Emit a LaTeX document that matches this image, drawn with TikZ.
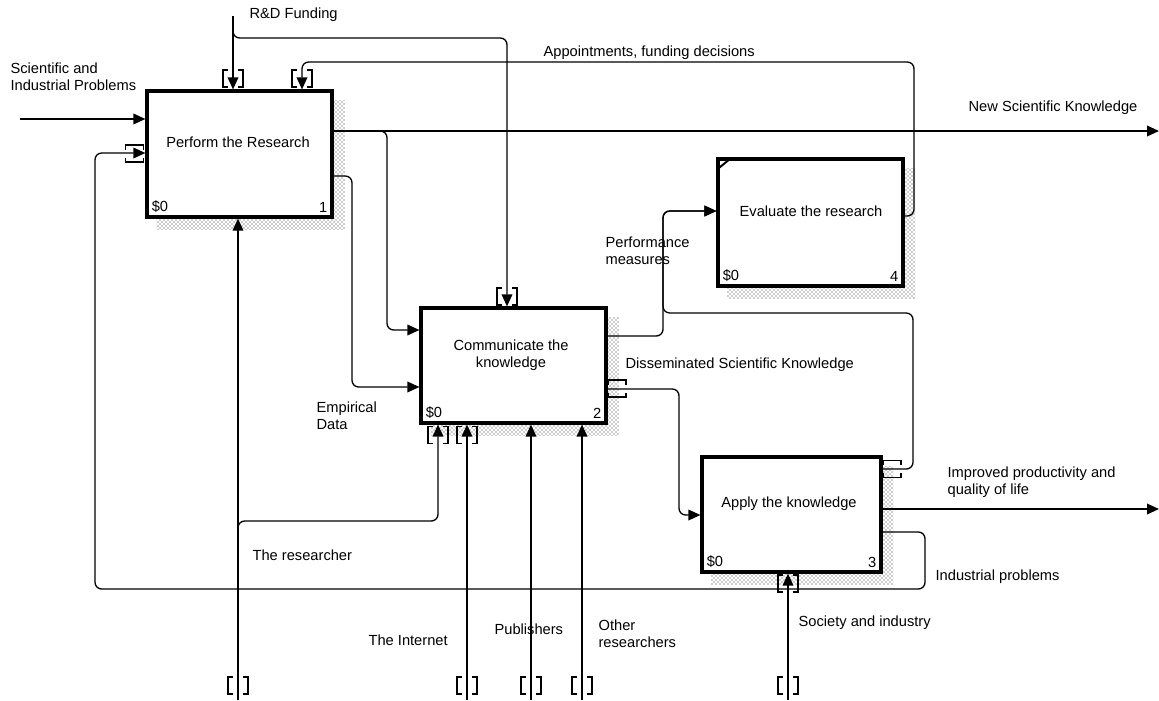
\documentclass[tikz,border=0pt]{standalone}
\usepackage{fontspec}
\setmainfont{Liberation Sans}
\usetikzlibrary{arrows.meta, patterns, backgrounds}

\begin{document}
\begin{tikzpicture}[
  x=0.75pt, y=-0.75pt,
  font=\fontsize{11}{13}\selectfont,
  fnbox/.style={draw, line width=2.4pt, fill=white, inner sep=0pt},
  corner/.style={inner sep=4.6pt},
  title/.style={align=center, inner sep=1pt},
  lbl/.style={align=left, inner sep=1pt, anchor=west},
  arr/.style={-{Triangle[length=9pt, width=8pt]}, line width=1pt, rounded corners=5pt},
  tunnel/.style={line width=0.8pt},
  shade/.style={fill=black!25, pattern=crosshatch dots, pattern color=black!85},
  tunv/.pic={\draw[tunnel] (-5,-8.5) -- (-10,-8.5) -- (-10,8.5) -- (-5,8.5)
                           (5,-8.5) -- (10,-8.5) -- (10,8.5) -- (5,8.5);},
  tunh/.pic={\draw[tunnel] (-9,-4) -- (-9,-8.5) -- (9,-8.5) -- (9,-4)
                           (-9,4) -- (-9,8.5) -- (9,8.5) -- (9,4);}
]
  \useasboundingbox (0,0) rectangle (1159,700);

  % activity boxes
  \node[fnbox, minimum width=138.75pt, minimum height=94.5pt,
        label={[corner, anchor=south west]south west:\$0},
        label={[corner, anchor=south east]south east:1}] (b1) at (239.5,154) {};
  \node[fnbox, minimum width=138.75pt, minimum height=86.25pt,
        label={[corner, anchor=south west]south west:\$0},
        label={[corner, anchor=south east]south east:2}] (b2) at (513.5,365.5) {};
  \node[fnbox, minimum width=134.25pt, minimum height=86.25pt,
        label={[corner, anchor=south west]south west:\$0},
        label={[corner, anchor=south east]south east:3}] (b3) at (791.5,514.5) {};
  \node[fnbox, minimum width=138.75pt, minimum height=95.25pt,
        label={[corner, anchor=south west]south west:\$0},
        label={[corner, anchor=south east]south east:4}] (b4) at (810.5,222.5) {};
  \draw[line width=1.5pt] ([shift={(2,11)}]b4.north west) -- ([shift={(13,2)}]b4.north west);

  \begin{scope}[on background layer]
    \foreach \b in {b1,b2,b3,b4}
      \fill[shade] ([shift={(11,11)}]\b.north west) rectangle ([shift={(11,11)}]\b.south east);
  \end{scope}

  \node[title] (t1) at (238,142)   {Perform the Research};
  \node[title] (t2) at (511,355.5) {Communicate the\\knowledge};
  \node[title] (t3) at (789,504)   {Apply the knowledge};
  \node[title] (t4) at (811,211)   {Evaluate the research};

  % free ends and bends
  \coordinate (sci)  at (20,119);
  \coordinate (rd)   at (233,16);
  \coordinate (rd2)  at (507,38);
  \coordinate (apA)  at (914,216);
  \coordinate (apB)  at (302,62);
  \coordinate (nsk)  at (1159,131);
  \coordinate (nskB) at (387,330);
  \coordinate (empA) at (352,176);
  \coordinate (emp)  at (352,387);
  \coordinate (pmA)  at (663,336);
  \coordinate (pm)   at (663,211);
  \coordinate (pmB)  at (913,469);
  \coordinate (pmC)  at (663,313);
  \coordinate (dsk)  at (679,389);
  \coordinate (dskB) at (679,515);
  \coordinate (ipq)  at (1159,509);
  \coordinate (ind)  at (925,532);
  \coordinate (indB) at (95,589);
  \coordinate (indC) at (95,153);
  \coordinate (res)  at (238,700);
  \coordinate (resB) at (438,521);
  \coordinate (inet) at (467,700);
  \coordinate (pub)  at (531,700);
  \coordinate (oth)  at (582,700);
  \coordinate (soc)  at (788,700);

  % connectors
  \draw[arr] (sci) -- (sci -| b1.west);
  \draw[arr] (rd) -- (rd |- b1.north);
  \draw[arr] (rd) |- (rd2) -- (rd2 |- b2.north);
  \draw[arr] (apA -| b4.east) -- (apA) |- (apB) -- (apB |- b1.north);
  \draw[arr] (nsk -| b1.east) -- (nsk);
  \draw[arr] (nsk -| b1.east) -| (nskB) -- (nskB -| b2.west);
  \draw[arr] (empA -| b1.east) -- (empA) -- (emp) -- (emp -| b2.west);
  \draw[arr] (pmA -| b2.east) -- (pmA) -- (pm) -- (pm -| b4.west);
  \draw[arr] (pmB -| b3.east) -- (pmB) |- (pmC) -- (pm) -- (pm -| b4.west);
  \draw[arr] (dsk -| b2.east) -- (dsk) -- (dskB) -- (dskB -| b3.west);
  \draw[arr] (ipq -| b3.east) -- (ipq);
  \draw[arr] (ind -| b3.east) -- (ind) |- (indB) -- (indC) -- (indC -| b1.west);
  \draw[arr] (res) -- (res |- b1.south);
  \draw[arr] (res) |- (resB) -- (resB |- b2.south);
  \draw[arr] (inet) -- (inet |- b2.south);
  \draw[arr] (pub) -- (pub |- b2.south);
  \draw[arr] (oth) -- (oth |- b2.south);
  \draw[arr] (soc) -- (soc |- b3.south);

  % tunnels
  \pic at (233,78.5) {tunv};
  \pic at (302,78.5) {tunv};
  \pic at (507,296.5) {tunv};
  \pic at (438,435) {tunv};
  \pic at (467,435) {tunv};
  \pic at (788,583.5) {tunv};
  \pic at (134.5,153.5) {tunh};
  \pic at (617,388.5) {tunh};
  \pic at (892,469) {tunh};
  \foreach \x in {238,467,531,582,788}
    \pic at (\x,685.5) {tunv};

  % labels
  \node[lbl] (lrd)   at (248,15)    {R\&D Funding};
  \node[lbl] (lsci)  at (9,77)      {Scientific and\\Industrial Problems};
  \node[lbl] (lap)   at (542,53)    {Appointments, funding decisions};
  \node[lbl] (lnsk)  at (967,108)   {New Scientific Knowledge};
  \node[lbl] (lpm)   at (604,250.5) {Performance\\measures};
  \node[lbl] (ldsk)  at (624,365)   {Disseminated Scientific Knowledge};
  \node[lbl] (lemp)  at (315,416)   {Empirical\\Data};
  \node[lbl] (lres)  at (251,555)   {The researcher};
  \node[lbl] (lind)  at (934,577)   {Industrial problems};
  \node[lbl] (lipq)  at (946,482)   {Improved productivity and\\quality of life};
  \node[lbl] (linet) at (367,640)   {The Internet};
  \node[lbl] (lpub)  at (493,629)   {Publishers};
  \node[lbl] (loth)  at (597,634)   {Other\\researchers};
  \node[lbl] (lsoc)  at (797,623)   {Society and industry};
\end{tikzpicture}
\end{document}
